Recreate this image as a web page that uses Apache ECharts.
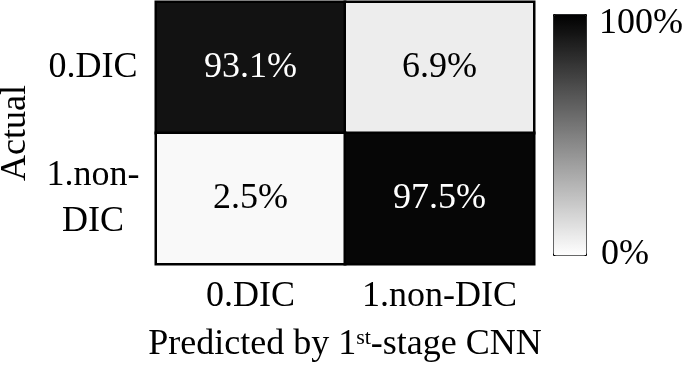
<!DOCTYPE html>
<html>
<head>
<meta charset="utf-8">
<script src="https://cdn.jsdelivr.net/npm/echarts@6/dist/echarts.min.js"></script>
<style>
html,body{margin:0;padding:0;background:#fff;}
#main{width:685px;height:372px;}
</style>
</head>
<body>
<div id="main"></div>
<script>
var predictedCategories = ['0.DIC', '1.non-DIC'];
var actualCategories = ['0.DIC', '1.non-\nDIC'];
// [predictedIndex, actualIndex, percent]
var cellValues = [
  [0, 0, 93.1],
  [1, 0, 6.9],
  [0, 1, 2.5],
  [1, 1, 97.5]
];
var colorbarLabels = ['100%', '0%'];
var xTitle = ['Predicted by 1', 'st', '-stage CNN'];
var yTitle = 'Actual';

var FONT = 'Liberation Serif';
var chart = echarts.init(document.getElementById('main'), null, {renderer: 'canvas'});

var data = cellValues.map(function (d) {
  return {
    value: d,
    label: {color: d[2] > 50 ? '#ffffff' : '#000000'}
  };
});

chart.setOption({
  animation: false,
  backgroundColor: '#ffffff',
  grid: {left: 156, right: 151, top: 2, bottom: 108, outerBoundsMode: 'none', containLabel: false},
  xAxis: {
    type: 'category',
    data: predictedCategories,
    axisTick: {show: false},
    axisLine: {show: false},
    splitArea: {show: false},
    axisLabel: {fontFamily: FONT, fontSize: 36, color: '#000', margin: 15, interval: 0, hideOverlap: false},
    name: '{a|' + xTitle[0] + '}{s|' + xTitle[1] + '}{a|' + xTitle[2] + '}',
    nameLocation: 'middle',
    nameGap: 63,
    nameTextStyle: {
      rich: {
        a: {fontFamily: FONT, fontSize: 36, color: '#000', lineHeight: 36},
        s: {fontFamily: FONT, fontSize: 22, color: '#000', verticalAlign: 'top', lineHeight: 36, padding: [0, 0, 18, 0]}
      }
    }
  },
  yAxis: {
    type: 'category',
    data: actualCategories,
    inverse: true,
    axisTick: {show: false},
    axisLine: {show: false},
    splitArea: {show: false},
    axisLabel: {fontFamily: FONT, fontSize: 36, color: '#000', margin: 63, align: 'center', lineHeight: 46, interval: 0},
    name: yTitle,
    nameLocation: 'middle',
    nameGap: 122,
    nameRotate: 90,
    nameTextStyle: {fontFamily: FONT, fontSize: 36, color: '#000'}
  },
  visualMap: {
    type: 'continuous',
    min: 0,
    max: 100,
    calculable: false,
    orient: 'vertical',
    left: 553,
    top: 14,
    padding: 0,
    itemWidth: 33,
    itemHeight: 241,
    inRange: {color: ['#ffffff', '#000000']},
    borderColor: '#000',
    borderWidth: 1,
    textStyle: {fontFamily: FONT, fontSize: 36, color: '#000'}
  },
  series: [{
    type: 'heatmap',
    data: data,
    itemStyle: {borderColor: '#000', borderWidth: 2.5},
    emphasis: {disabled: true},
    label: {
      show: true,
      fontFamily: FONT,
      fontSize: 36,
      formatter: function (p) { return p.value[2].toFixed(1) + '%'; }
    }
  }],
  graphic: [
    {type: 'text', left: 599, top: 6, style: {text: colorbarLabels[0], font: '36px "Liberation Serif"', fill: '#000'}},
    {type: 'text', left: 601, top: 237, style: {text: colorbarLabels[1], font: '36px "Liberation Serif"', fill: '#000'}}
  ]
});
</script>
</body>
</html>
